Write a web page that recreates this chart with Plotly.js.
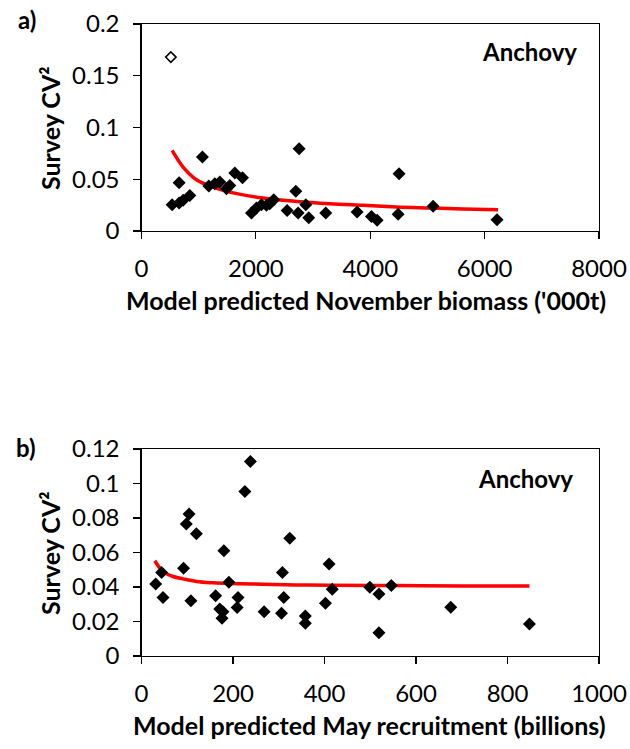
<!DOCTYPE html>
<html>
<head>
<meta charset="utf-8">
<script src="https://cdn.plot.ly/plotly-3.0.1.min.js"></script>
<style>html,body{margin:0;padding:0;background:#fff;}#chart{width:630px;height:749px;}</style>
</head>
<body>
<div id="chart"></div>
<script>
// Panel a) : biomass vs survey CV^2
const biomassX = [536, 658, 658, 728, 845, 1066, 1177, 1282, 1369, 1486, 1544, 1632, 1766, 1923, 2010, 2098, 2185, 2243, 2313, 2546, 2698, 2756, 2739, 2873, 2925, 3222, 3770, 4021, 4120, 4487, 4504, 5099, 6217];
const biomassCV = [0.0254, 0.027, 0.0466, 0.0296, 0.0344, 0.0714, 0.0434, 0.0457, 0.0473, 0.0408, 0.044, 0.056, 0.0514, 0.0174, 0.0222, 0.0254, 0.0248, 0.0264, 0.0302, 0.0199, 0.0383, 0.0794, 0.0174, 0.0254, 0.0129, 0.0174, 0.0183, 0.0141, 0.0103, 0.0161, 0.0553, 0.0238, 0.0109];
const outlierX = [513];
const outlierCV = [0.168];
const fitAX = [536, 728, 961, 1253, 1544, 2127, 2710, 3292, 3875, 4458, 5040, 5623, 6235];
const fitACV = [0.0778, 0.0617, 0.0495, 0.0424, 0.0376, 0.0318, 0.0286, 0.0264, 0.0248, 0.0232, 0.0222, 0.0212, 0.0206];

// Panel b) : recruitment vs survey CV^2
const recruitX = [31, 44, 47, 92, 98, 104, 108, 120, 162, 171, 178, 176, 180, 191, 211, 209, 226, 238, 268, 306, 308, 311, 324, 358, 358, 402, 410, 417, 499, 519, 519, 546, 676, 848];
const recruitCV = [0.0418, 0.0484, 0.0339, 0.0509, 0.0765, 0.0823, 0.0321, 0.0708, 0.035, 0.0273, 0.0257, 0.0219, 0.061, 0.0428, 0.0339, 0.0281, 0.0954, 0.1128, 0.0257, 0.0248, 0.0484, 0.0339, 0.0683, 0.0232, 0.019, 0.0306, 0.0534, 0.0387, 0.0399, 0.036, 0.0135, 0.0408, 0.0283, 0.0186];
const fitBX = [29, 47, 69, 91, 120, 157, 193, 266, 339, 411, 557, 703, 848];
const fitBCV = [0.0552, 0.049, 0.0461, 0.0447, 0.0432, 0.0424, 0.042, 0.0416, 0.0412, 0.041, 0.0408, 0.0406, 0.0406];

const xTicksA = [0, 2000, 4000, 6000, 8000];
const yTicksA = [0, 0.05, 0.1, 0.15, 0.2];
const xTicksB = [0, 200, 400, 600, 800, 1000];
const yTicksB = [0, 0.02, 0.04, 0.06, 0.08, 0.1, 0.12];

const titleA = "Model predicted November biomass ('000t)";
const titleB = "Model predicted May recruitment (billions)";
const yTitle = "Survey CV²";
const speciesLabel = "Anchovy";

const FONT = "Lato, 'Open Sans', sans-serif";
const FS = 24;
const FT = 25;

const traces = [
  {x: fitAX, y: fitACV, xaxis: 'x', yaxis: 'y', mode: 'lines', line: {color: '#ff0000', width: 3.5, shape: 'spline'}, hoverinfo: 'skip'},
  {x: biomassX, y: biomassCV, xaxis: 'x', yaxis: 'y', mode: 'markers', marker: {symbol: 'diamond', size: 10, color: '#000'}},
  {x: outlierX, y: outlierCV, xaxis: 'x', yaxis: 'y', mode: 'markers', marker: {symbol: 'diamond-open', size: 8, color: '#000', line: {width: 1.5, color: '#000'}}},
  {x: fitBX, y: fitBCV, xaxis: 'x2', yaxis: 'y2', mode: 'lines', line: {color: '#ff0000', width: 3.5, shape: 'spline'}, hoverinfo: 'skip'},
  {x: recruitX, y: recruitCV, xaxis: 'x2', yaxis: 'y2', mode: 'markers', marker: {symbol: 'diamond', size: 10, color: '#000'}}
];

const axisCommon = {
  showline: true, linecolor: '#000', linewidth: 1.2, mirror: true,
  ticks: 'outside', ticklen: 7, tickcolor: '#000', tickwidth: 1.2,
  showgrid: false, zeroline: false,
  tickfont: {family: FONT, size: FS, color: '#000'},
  ticklabelstandoff: 9
};

const layout = {
  width: 630, height: 749,
  margin: {l: 0, r: 0, t: 0, b: 0},
  paper_bgcolor: '#fff', plot_bgcolor: '#fff',
  showlegend: false,
  font: {family: FONT, color: '#000'},
  xaxis: Object.assign({}, axisCommon, {domain: [141.5/630, 599/630], range: [0, 8000], tickvals: xTicksA, ticktext: xTicksA.map(String), anchor: 'y'}),
  yaxis: Object.assign({}, axisCommon, {domain: [(749-231)/749, (749-24)/749], range: [0, 0.2], tickvals: yTicksA, ticktext: yTicksA.map(String), anchor: 'x'}),
  xaxis2: Object.assign({}, axisCommon, {domain: [141.5/630, 599/630], range: [0, 1000], tickvals: xTicksB, ticktext: xTicksB.map(String), anchor: 'y2'}),
  yaxis2: Object.assign({}, axisCommon, {domain: [(749-656)/749, (749-449)/749], range: [0, 0.12], tickvals: yTicksB, ticktext: yTicksB.map(String), anchor: 'x2'}),
  annotations: [
    {text: '<b>' + titleA + '</b>', xref: 'paper', yref: 'paper', x: 366/630, y: 1 - 300/749, xanchor: 'center', yanchor: 'middle', showarrow: false, font: {family: FONT, size: FT, color: '#000'}},
    {text: '<b>' + titleB + '</b>', xref: 'paper', yref: 'paper', x: 369/630, y: 1 - 725/749, xanchor: 'center', yanchor: 'middle', showarrow: false, font: {family: FONT, size: FT, color: '#000'}},
    {text: '<b>' + yTitle + '</b>', xref: 'paper', yref: 'paper', x: 50/630, y: 1 - 128/749, xanchor: 'center', yanchor: 'middle', textangle: -90, showarrow: false, font: {family: FONT, size: FT, color: '#000'}},
    {text: '<b>' + yTitle + '</b>', xref: 'paper', yref: 'paper', x: 50/630, y: 1 - 553/749, xanchor: 'center', yanchor: 'middle', textangle: -90, showarrow: false, font: {family: FONT, size: FT, color: '#000'}},
    {text: '<b>' + speciesLabel + '</b>', xref: 'paper', yref: 'paper', x: 529/630, y: 1 - 51/749, xanchor: 'center', yanchor: 'middle', showarrow: false, font: {family: FONT, size: FS, color: '#000'}},
    {text: '<b>' + speciesLabel + '</b>', xref: 'paper', yref: 'paper', x: 525/630, y: 1 - 478/749, xanchor: 'center', yanchor: 'middle', showarrow: false, font: {family: FONT, size: FS, color: '#000'}},
    {text: '<b>a)</b>', xref: 'paper', yref: 'paper', x: 27/630, y: 1 - 20/749, xanchor: 'center', yanchor: 'middle', showarrow: false, font: {family: FONT, size: FS, color: '#000'}},
    {text: '<b>b)</b>', xref: 'paper', yref: 'paper', x: 26/630, y: 1 - 448/749, xanchor: 'center', yanchor: 'middle', showarrow: false, font: {family: FONT, size: FS, color: '#000'}}
  ]
};

Plotly.newPlot('chart', traces, layout, {staticPlot: true, displayModeBar: false});
</script>
</body>
</html>
